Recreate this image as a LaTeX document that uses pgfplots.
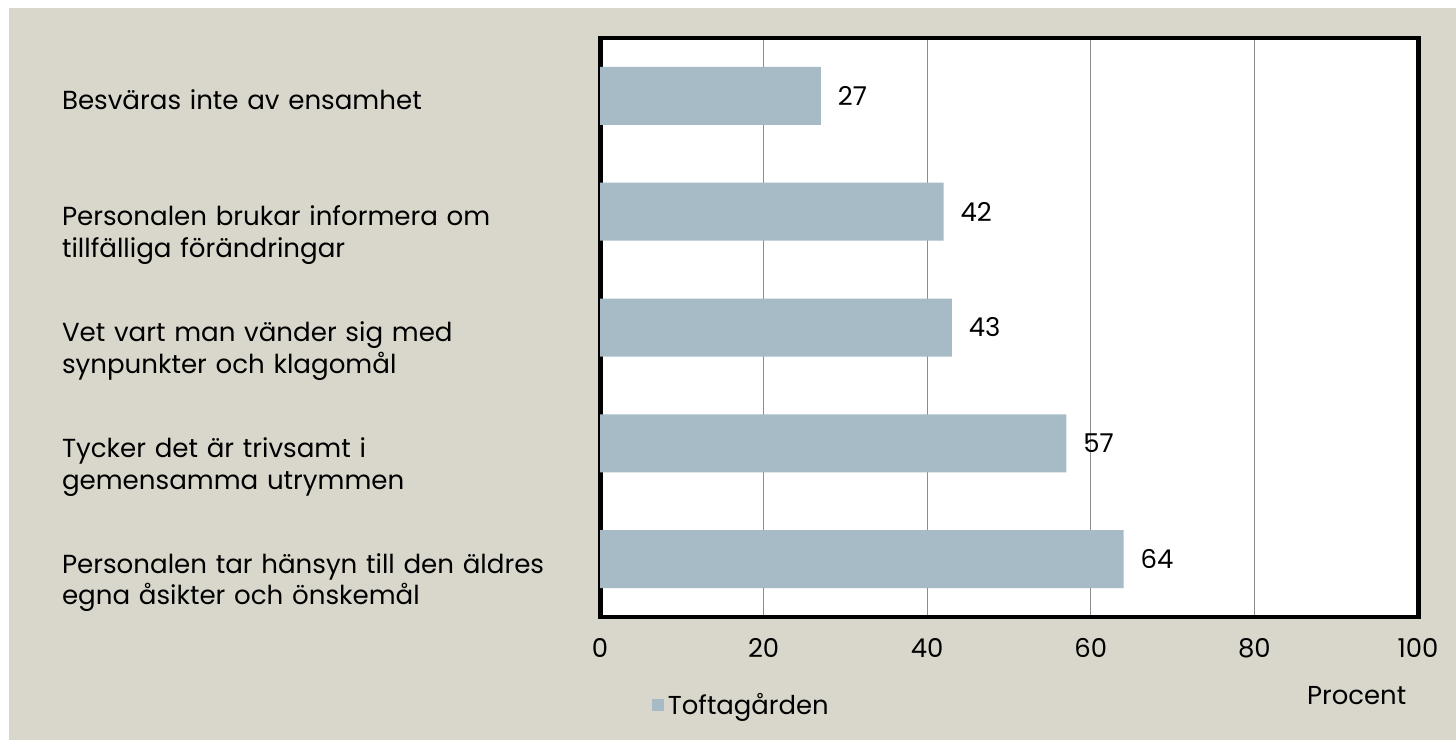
\documentclass[border=0pt]{standalone}
\usepackage{pgfplots}
\pgfplotsset{compat=1.18}
\usepackage{fontspec}
\setmainfont{Poppins}
\definecolor{bgbeige}{HTML}{D9D7CB}
\definecolor{barcol}{HTML}{A7BBC6}
\definecolor{gridcol}{HTML}{8C8C8C}
\begin{document}
\begin{tikzpicture}[x=1bp,y=1bp]
\useasboundingbox (0,0) rectangle (728,370);
\fill[white] (0,0) rectangle (728,370);
\fill[bgbeige] (4.5,0) rectangle (728,366);
\begin{axis}[
  at={(300bp,61.5bp)}, anchor=south west,
  scale only axis, width=409bp, height=289.5bp,
  xbar, bar width=29bp,
  xmin=0, xmax=100, ymin=-0.5, ymax=4.5,
  xtick={0,20,40,60,80,100},
  ytick={0,1,2,3,4},
  yticklabels={{Personalen tar hänsyn till den äldres\\egna åsikter och önskemål},
               {Tycker det är trivsamt i\\gemensamma utrymmen},
               {Vet vart man vänder sig med\\synpunkter och klagomål},
               {Personalen brukar informera om\\tillfälliga förändringar},
               {Besväras inte av ensamhet}},
  yticklabel style={anchor=north west, xshift=-272.5bp, yshift=6.5bp, text width=270bp, align=left,
    font=\fontsize{13.1}{16}\selectfont},
  xticklabel style={font=\fontsize{13}{16}\selectfont, yshift=-7bp},
  /pgf/number format/assume math mode=true,
  major tick length=0pt,
  xmajorgrids, major grid style={gridcol, line width=0.6pt},
  axis line style={line width=2.5pt, black},
  axis background/.style={fill=white},
  nodes near coords,
  every node near coord/.append style={font=\fontsize{13}{16}\selectfont, anchor=west, xshift=5bp, black},
  legend style={at={(0.174,-0.152)}, anchor=center, draw=none, fill=none,
    font=\fontsize{13}{16}\selectfont},
  legend image code/.code={\fill[barcol] (0bp,-3bp) rectangle (6bp,3bp);},
  xlabel={Procent},
  xlabel style={at={(0.925,-0.135)}, anchor=center, font=\fontsize{13}{16}\selectfont},
]
\addplot[fill=barcol, draw=none] coordinates {(64,0) (57,1) (43,2) (42,3) (27,4)};
\addlegendentry{Toftagården}
\end{axis}
\end{tikzpicture}
\end{document}
